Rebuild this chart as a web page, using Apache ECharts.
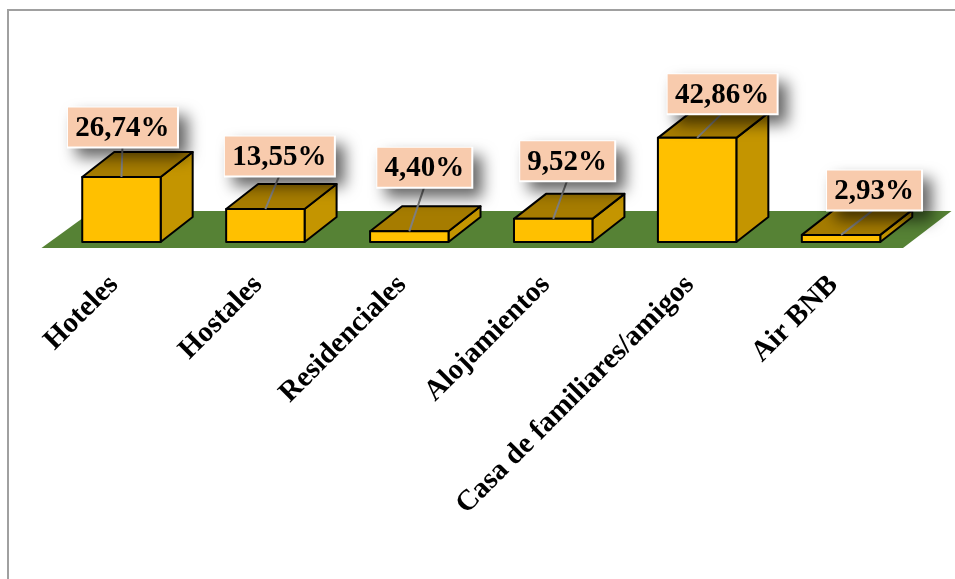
<!DOCTYPE html>
<html>
<head>
<meta charset="utf-8">
<style>html,body{margin:0;padding:0;background:#fff;overflow:hidden}#chart{width:955px;height:579px}</style>
<script src="https://cdn.jsdelivr.net/npm/echarts@6/dist/echarts.min.js"></script>
</head>
<body>
<div id="chart"></div>
<script>
const categories = ['Hoteles', 'Hostales', 'Residenciales', 'Alojamientos', 'Casa de familiares/amigos', 'Air BNB'];
const values = [26.74, 13.55, 4.40, 9.52, 42.86, 2.93];

const FONT = '"Liberation Serif", "Times New Roman", serif';
const DEPTH_X = 32, DEPTH_Y = -25;
const BAR_SHARE = 0.545;
// label box centre, relative to the top centre of each bar's front face
const labelNudge = [[1, -50], [14, -53], [15, -64], [14, -58], [25, -44], [33, -45]];

function fmt(v) { return v.toFixed(2).replace('.', ',') + '%'; }

function renderFloor(params, api) {
  const band = api.size([1, 0])[0];
  const p0 = api.coord([0, 0]);
  const p1 = api.coord([categories.length - 1, 0]);
  const left = p0[0] - band / 2, right = p1[0] + band / 2, y = p0[1];
  return {
    type: 'polygon',
    shape: { points: [[left - 8, y + 6], [right - 10, y + 6], [right + 38.5, y - 31], [left + 43, y - 31]] },
    style: { fill: '#568235' }
  };
}

function renderBar(params, api) {
  const band = api.size([1, 0])[0];
  const w = band * BAR_SHARE;
  const base = api.coord([api.value(0), 0]);
  const top = api.coord([api.value(0), api.value(1)]);
  const l = base[0] - w / 2, r = base[0] + w / 2, b = base[1], t = top[1];
  const edge = { stroke: '#000', lineWidth: 2, lineJoin: 'round' };
  return {
    type: 'group',
    children: [
      { type: 'polygon', shape: { points: [[r, t], [r + DEPTH_X, t + DEPTH_Y], [r + DEPTH_X, b + DEPTH_Y], [r, b]] },
        style: Object.assign({ fill: '#C49500' }, edge) },
      { type: 'polygon', shape: { points: [[l, t], [l + DEPTH_X, t + DEPTH_Y], [r + DEPTH_X, t + DEPTH_Y], [r, t]] },
        style: Object.assign({ fill: '#A67C00' }, edge) },
      { type: 'rect', shape: { x: l, y: t, width: w, height: b - t },
        style: Object.assign({ fill: '#FFC000' }, edge) }
    ]
  };
}

function renderLabel(params, api) {
  const i = api.value(0);
  const top = api.coord([i, api.value(1)]);
  const text = fmt(api.value(1));
  const boxW = text.length === 6 ? 109 : 94, boxH = 39;
  const cx = top[0] + labelNudge[i][0], cy = top[1] + labelNudge[i][1];
  const x = cx - boxW / 2, y = cy - boxH / 2;
  return {
    type: 'group',
    children: [
      { type: 'line', shape: { x1: top[0], y1: top[1], x2: cx, y2: y + boxH },
        style: { stroke: '#7f7f7f', lineWidth: 2 } },
      { type: 'rect', shape: { x: x - 1, y: y - 1, width: boxW + 3, height: boxH + 3 },
        style: { fill: '#fff', shadowBlur: 15, shadowOffsetX: 9, shadowOffsetY: 9, shadowColor: 'rgba(0,0,0,0.6)' } },
      { type: 'rect', shape: { x: x, y: y, width: boxW, height: boxH }, style: { fill: '#F8CBAD' } },
      { type: 'text', x: cx, y: cy + 1.5,
        style: { text: text, fill: '#000', font: 'bold 29px ' + FONT, align: 'center', verticalAlign: 'middle' } }
    ]
  };
}

const points = values.map((v, i) => [i, v]);
const chart = echarts.init(document.getElementById('chart'), null, { renderer: 'canvas' });
chart.setOption({
  animation: false,
  backgroundColor: '#fff',
  graphic: [{
    type: 'rect', silent: true, z: -10,
    shape: { x: 8, y: 10, width: 1100, height: 1000 },
    style: { fill: 'none', stroke: '#a0a0a0', lineWidth: 2 }
  }],
  grid: { left: 49.5, width: 863.5, top: 23.3, height: 218.7 },
  xAxis: {
    type: 'category',
    data: categories,
    axisLine: { show: false },
    axisTick: { show: false },
    axisLabel: { rotate: 45, interval: 0, margin: 46, verticalAlign: 'bottom', lineHeight: 21, color: '#000', fontFamily: FONT, fontWeight: 'bold', fontSize: 29 }
  },
  yAxis: { type: 'value', min: 0, max: 90, show: false },
  series: [
    { type: 'custom', silent: true, z: 1, data: [[0, 0]], encode: { x: 0, y: 1 }, renderItem: renderFloor },
    { type: 'custom', silent: true, z: 2, data: points, encode: { x: 0, y: 1 }, renderItem: renderBar },
    { type: 'custom', silent: true, z: 3, data: points, encode: { x: 0, y: 1 }, renderItem: renderLabel }
  ]
});
</script>
</body>
</html>
